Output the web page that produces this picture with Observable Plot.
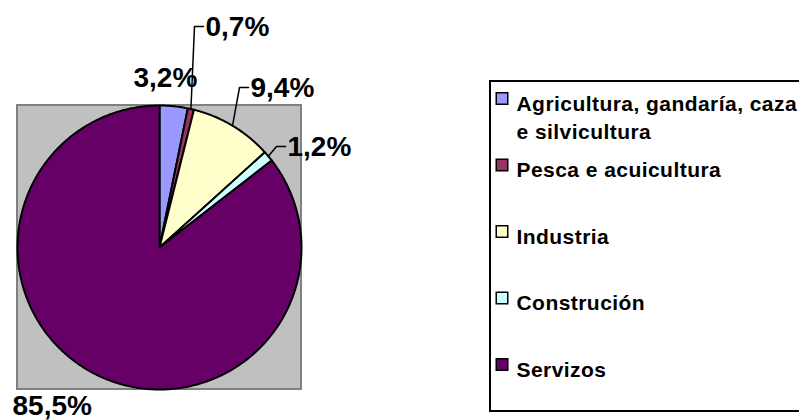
<!DOCTYPE html>
<html>
<head>
<meta charset="utf-8">
<script src="https://cdn.jsdelivr.net/npm/d3@7"></script>
<script src="https://cdn.jsdelivr.net/npm/@observablehq/plot@0.6"></script>
<style>
  html, body { margin: 0; padding: 0; background: #fff; overflow: hidden; }
  #chart svg { display: block; }
  #chart g[font-size="21"] text { letter-spacing: 0.45px; }
</style>
</head>
<body>
<div id="chart"></div>
<script>
// ---- data ----
const categories = ["Agricultura, gandaría, caza e silvicultura", "Pesca e acuicultura", "Industria", "Construción", "Servizos"];
const legendLabels = ["Agricultura, gandaría, caza\ne silvicultura", "Pesca e acuicultura", "Industria", "Construción", "Servizos"];
const values = [3.2, 0.7, 9.4, 1.2, 85.5];
const colors = ["#9999FF", "#993366", "#FFFFCC", "#CCFFFF", "#660066"];

// ---- layout ----
const W = 799, H = 420;
const cx = 159, cy = 247, R = 142;
const legendBox = {x1: 490, x2: 830, y1: 81, y2: 411};
const legendSwatchX = 501.5, legendTextX = 516, legendRow0 = 98, legendStep = 66.5;
const labelLayout = [
  {x: 133, y: 78, leader: false},
  {x: 205, y: 27, leader: true},
  {x: 250, y: 88, leader: true},
  {x: 287, y: 147, leader: true},
  {x: 12, y: 406, leader: false}
];

const arcs = d3.pie().sort(null).value(d => d)(values);
const pt = (a, r) => ({x: cx + r * Math.sin(a), y: cy - r * Math.cos(a)});

const slices = [];
arcs.forEach((a, i) => {
  const name = categories[i];
  slices.push({name, x: cx, y: cy});
  const n = Math.max(2, Math.ceil((a.endAngle - a.startAngle) / (Math.PI / 360)));
  for (let k = 0; k <= n; k++) {
    const t = a.startAngle + (a.endAngle - a.startAngle) * k / n;
    const p = pt(t, R);
    slices.push({name, x: p.x, y: p.y});
  }
});

const labels = arcs.map((a, i) => ({
  text: values[i].toFixed(1).replace(".", ",") + "%",
  ...labelLayout[i],
  mid: (a.startAngle + a.endAngle) / 2
}));

const leaders = [];
labels.forEach((l, i) => {
  if (!l.leader) return;
  const p = pt(l.mid, R);
  leaders.push({id: i, x: p.x, y: p.y});
  leaders.push({id: i, x: l.x - 11, y: l.y - 1});
  leaders.push({id: i, x: l.x - 2, y: l.y - 1});
});

const chart = Plot.plot({
  width: W,
  height: H,
  margin: 0,
  style: {background: "#fff", overflow: "hidden", fontFamily: "Arial, 'Liberation Sans', sans-serif"},
  x: {domain: [0, W], range: [0, W], axis: null},
  y: {domain: [0, H], range: [0, H], axis: null},
  color: {type: "ordinal", domain: categories, range: colors, legend: false},
  marks: [
    Plot.rect([0], {x1: cx - R, x2: cx + R, y1: cy - R, y2: cy + R, fill: "#C0C0C0", stroke: "#808080", strokeWidth: 2}),
    Plot.line(slices, {x: "x", y: "y", z: "name", fill: "name", stroke: "black", strokeWidth: 2, strokeLinejoin: "miter", curve: "linear-closed"}),
    Plot.line(leaders, {x: "x", y: "y", z: "id", stroke: "black", strokeWidth: 1.5}),
    Plot.text(labels, {x: "x", y: "y", text: "text", textAnchor: "start", fontSize: 28, fontWeight: "bold", fill: "black"}),
    Plot.rect([0], {x1: legendBox.x1, x2: legendBox.x2, y1: legendBox.y1, y2: legendBox.y2, fill: "white", stroke: "black", strokeWidth: 2}),
    Plot.dot(categories, {x: () => legendSwatchX, y: (d, i) => legendRow0 + i * legendStep, symbol: "square", r: 6.5, fill: d => d, stroke: "black", strokeWidth: 1.5}),
    Plot.text(legendLabels, {x: () => legendTextX, y: (d, i) => legendRow0 + i * legendStep - 7.5, text: d => d, textAnchor: "start", lineAnchor: "top", lineHeight: 1.333, fontSize: 21, fontWeight: "bold", fill: "black"})
  ]
});
document.getElementById("chart").appendChild(chart);
</script>
</body>
</html>
